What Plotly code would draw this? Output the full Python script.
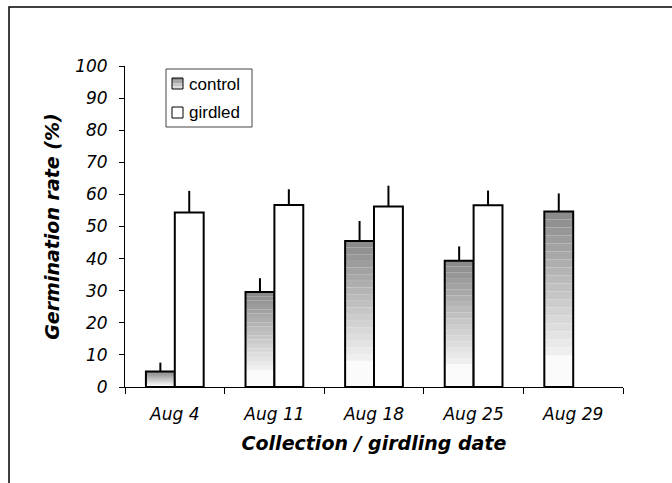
import plotly.graph_objects as go

categories = ["Aug 4", "Aug 11", "Aug 18", "Aug 25", "Aug 29"]
control = [4.8, 29.6, 45.5, 39.3, 54.7]
control_err = [2.8, 4.3, 6.2, 4.5, 5.6]
girdled = [54.4, 56.7, 56.2, 56.6, None]
girdled_err = [6.7, 4.9, 6.5, 4.6, None]
y_ticks = list(range(0, 101, 10))
series_names = ["control", "girdled"]

BW = 0.29
fig = go.Figure()

# gradient slices for control (dark at top, light at bottom, near-white base)
n = 18
white_frac = 0.18
def lerp(a, b, t):
    return int(round(a + (b - a) * t))
slices = [(0.0, white_frac, "#fbfbfb")]
for i in range(n):
    f0 = white_frac + (1 - white_frac) * i / n
    f1 = white_frac + (1 - white_frac) * (i + 1) / n
    t = (i + 0.5) / n
    v = lerp(0xf2, 0x88, t)
    slices.append((f0, f1, f"rgb({v},{v},{v})"))
for f0, f1, col in slices:
    fig.add_trace(go.Bar(x=categories, y=[c * (f1 - f0) for c in control],
                         base=[c * f0 for c in control], offset=-BW, width=BW,
                         marker=dict(color=col, line=dict(width=0)),
                         showlegend=False, hoverinfo="skip"))

# outline + error bars for control
fig.add_trace(go.Bar(x=categories, y=control, name=series_names[0], offset=-BW, width=BW,
                     showlegend=False,
                     marker=dict(color="rgba(0,0,0,0)", line=dict(color="black", width=2)),
                     error_y=dict(type="data", symmetric=False, array=control_err,
                                  arrayminus=[0] * 5, color="black", thickness=2, width=0)))

fig.add_trace(go.Bar(x=categories, y=girdled, name=series_names[1], offset=0, width=BW,
                     showlegend=False,
                     marker=dict(color="white", line=dict(color="black", width=2)),
                     error_y=dict(type="data", symmetric=False, array=girdled_err,
                                  arrayminus=[0] * 5, color="black", thickness=2, width=0)))

W, H = 672, 483
L, R, T, B = 125, 49, 66, 96
pw, ph = W - L - R, H - T - B
def px(x):
    return (x - L) / pw
def py(y):
    return (H - B - y) / ph

# outer frame
fig.add_shape(type="rect", xref="paper", yref="paper",
              x0=px(9), x1=px(W + 20), y0=py(H + 20), y1=py(7),
              line=dict(color="black", width=1.5), fillcolor="rgba(0,0,0,0)", layer="below")

# custom legend
fig.add_shape(type="rect", xref="paper", yref="paper",
              x0=px(166), x1=px(252), y0=py(127), y1=py(69),
              line=dict(color="#444444", width=1), fillcolor="white", layer="above")
bands = ["#8e8e8e", "#a6a6a6", "#c4c4c4", "#dedede"]
for k, col in enumerate(bands):
    fig.add_shape(type="rect", xref="paper", yref="paper",
                  x0=px(172), x1=px(183),
                  y0=py(78 + 11 * (k + 1) / len(bands)), y1=py(78 + 11 * k / len(bands)),
                  line=dict(width=0), fillcolor=col, layer="above")
fig.add_shape(type="rect", xref="paper", yref="paper",
              x0=px(172), x1=px(183), y0=py(89), y1=py(78),
              line=dict(color="black", width=1), fillcolor="rgba(0,0,0,0)", layer="above")
fig.add_shape(type="rect", xref="paper", yref="paper",
              x0=px(172), x1=px(183), y0=py(118), y1=py(107),
              line=dict(color="black", width=1), fillcolor="white", layer="above")
for name, yy in zip(series_names, [84, 112]):
    fig.add_annotation(xref="paper", yref="paper", x=px(187), y=py(yy), text=name,
                       showarrow=False, xanchor="left", yanchor="middle",
                       font=dict(family="Liberation Sans", size=17, color="black"))

fig.update_layout(
    width=W, height=H, margin=dict(l=L, r=R, t=T, b=B),
    paper_bgcolor="white", plot_bgcolor="white",
    barmode="overlay", showlegend=False,
    font=dict(family="DejaVu Sans", color="black"),
    xaxis=dict(type="category", tickson="boundaries", ticks="outside", ticklen=6,
               tickcolor="black", showline=True, linecolor="black", linewidth=1,
               showgrid=False, ticklabelstandoff=12,
               tickfont=dict(family="DejaVu Sans", size=17, style="italic"),
               title=dict(text="<b><i>Collection / girdling date</i></b>",
                          font=dict(family="DejaVu Sans", size=19), standoff=13)),
    yaxis=dict(range=[0, 100], tickvals=y_ticks, ticks="outside", ticklen=5,
               tickcolor="black", showline=True, linecolor="black", linewidth=1,
               showgrid=False, zeroline=False, ticklabelstandoff=8,
               tickfont=dict(family="DejaVu Sans", size=17, style="italic"),
               title=dict(text="<b><i>Germination rate (%)</i></b>",
                          font=dict(family="DejaVu Sans", size=19), standoff=10)),
)

fig.write_html("out.html", config={"displayModeBar": False},
               post_script="document.body.style.margin='0';")
